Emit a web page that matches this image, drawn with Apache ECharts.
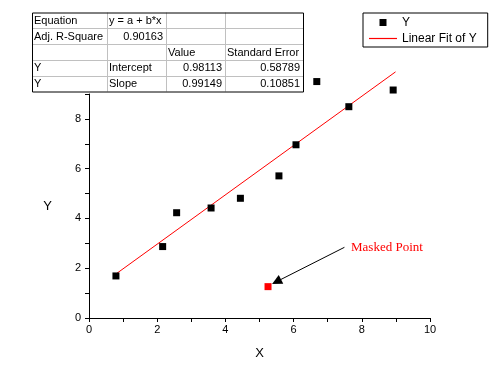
<!DOCTYPE html>
<html>
<head>
<meta charset="utf-8">
<script src="https://cdn.jsdelivr.net/npm/echarts@6/dist/echarts.min.js"></script>
<style>
html,body{margin:0;padding:0;background:#fff;}
#chart{width:500px;height:381px;}
</style>
</head>
<body>
<div id="chart"></div>
<script>
// ---- data ----
const xValues = [0.79, 2.16, 2.57, 3.58, 4.44, 5.57, 6.07, 6.68, 7.62, 8.92];
const yValues = [1.69, 2.87, 4.23, 4.42, 4.81, 5.71, 6.96, 9.50, 8.49, 9.16];
const maskedPoint = [5.25, 1.26];
const fitX = [0.72, 8.99];
const fitY = [1.70, 9.89];
const arrowFrom = [7.49, 2.84];
const arrowTo = [5.50, 1.46];
const xTicks = [0, 2, 4, 6, 8, 10];
const yTicks = [0, 2, 4, 6, 8];
const tableRow1 = ['Equation', 'y = a + b*x', '', ''];
const tableRow2 = ['Adj. R-Square', '0.90163', '', ''];
const tableRow3 = ['', '', 'Value', 'Standard Error'];
const tableRow4 = ['Y', 'Intercept', '0.98113', '0.58789'];
const tableRow5 = ['Y', 'Slope', '0.99149', '0.10851'];
const tableRows = [tableRow1, tableRow2, tableRow3, tableRow4, tableRow5];
const isNum = s => /^[0-9.]+$/.test(s);

const chart = echarts.init(document.getElementById('chart'), null, {renderer: 'canvas'});

// table graphic
const colEdges = [32, 107, 166, 225, 303];
const rowTop = 12.5, rowH = 15.8;
const g = [];
for (let r = 1; r < tableRows.length; r++) {
  g.push({type: 'line', shape: {x1: colEdges[0], y1: Math.round(rowTop + r*rowH)+0.5, x2: colEdges[4], y2: Math.round(rowTop + r*rowH)+0.5}, style: {stroke: '#c0c0c0', lineWidth: 1}, silent: true});
}
for (let c = 1; c < 4; c++) {
  g.push({type: 'line', shape: {x1: colEdges[c]+0.5, y1: rowTop, x2: colEdges[c]+0.5, y2: rowTop + 5*rowH}, style: {stroke: '#c0c0c0', lineWidth: 1}, silent: true});
}
g.push({type: 'rect', shape: {x: colEdges[0]+0.5, y: rowTop+0.5, width: colEdges[4]-colEdges[0], height: 5*rowH}, style: {fill: 'none', stroke: '#000', lineWidth: 1}, silent: true});
tableRows.forEach((row, r) => {
  row.forEach((txt, c) => {
    if (!txt) return;
    const right = isNum(txt);
    g.push({type: 'text', x: right ? colEdges[c+1]-3 : colEdges[c]+2, y: rowTop + r*rowH + rowH/2 + 0.5,
      style: {text: txt, fill: '#000', font: '11px "Liberation Sans", Arial, sans-serif', textAlign: right ? 'right' : 'left', textVerticalAlign: 'middle'}, silent: true});
  });
});

const option = {
  animation: false,
  backgroundColor: '#fff',
  grid: {left: 89, top: 94, width: 341, height: 224, containLabel: false},
  legend: {
    orient: 'vertical', left: 363, top: 13,
    data: [
      {name: 'Y', icon: 'path://M0,0h10v10h-10z'},
      {name: 'Linear Fit of Y', icon: 'path://M0,0h28v1.2h-28z'}
    ],
    itemWidth: 28, itemHeight: 7, itemGap: 3,
    padding: [3, 11, 2, 6],
    borderColor: '#000', borderWidth: 1,
    textStyle: {fontFamily: '"Liberation Sans", Arial, sans-serif', fontSize: 12, color: '#000', lineHeight: 13},
    symbolKeepAspect: true
  },
  xAxis: {
    type: 'value', min: 0, max: 10, interval: 1,
    name: 'X', nameLocation: 'middle', nameGap: 29,
    nameTextStyle: {fontFamily: '"Liberation Sans", Arial, sans-serif', fontSize: 13, color: '#000'},
    axisLine: {lineStyle: {color: '#000', width: 1}},
    axisTick: {show: true, length: 4, inside: false, lineStyle: {color: '#000'}},
    axisLabel: {color: '#000', fontSize: 11, fontFamily: '"Liberation Sans", Arial, sans-serif', margin: 6,
      formatter: v => xTicks.indexOf(v) >= 0 ? String(v) : ''},
    splitLine: {show: false}
  },
  yAxis: {
    type: 'value', min: 0, max: 9, interval: 1,
    name: 'Y', nameLocation: 'middle', nameGap: 37, nameRotate: 0,
    nameTextStyle: {fontFamily: '"Liberation Sans", Arial, sans-serif', fontSize: 13, color: '#000'},
    axisLine: {lineStyle: {color: '#000', width: 1}},
    axisTick: {show: true, length: 4, inside: false, lineStyle: {color: '#000'}},
    axisLabel: {color: '#000', fontSize: 11, fontFamily: '"Liberation Sans", Arial, sans-serif', margin: 8,
      formatter: v => yTicks.indexOf(v) >= 0 ? String(v) : ''},
    splitLine: {show: false}
  },
  series: [
    {
      name: 'Y', type: 'scatter', clip: false,
      symbol: 'rect', symbolSize: 7,
      itemStyle: {color: '#000', opacity: 1},
      data: xValues.map((x, i) => [x, yValues[i]]),
      z: 3
    },
    {
      name: 'Linear Fit of Y', type: 'line', clip: false,
      showSymbol: false, symbol: 'none',
      lineStyle: {color: '#ff0000', width: 1},
      itemStyle: {color: '#ff0000'},
      data: fitX.map((x, i) => [x, fitY[i]]),
      z: 2
    },
    {
      name: 'Masked', type: 'scatter', clip: false,
      symbol: 'rect', symbolSize: 7,
      itemStyle: {color: '#ff0000', opacity: 1},
      data: [maskedPoint],
      markLine: {
        silent: true, animation: false,
        symbol: ['none', 'triangle'], symbolSize: 10,
        itemStyle: {color: '#000'},
        lineStyle: {color: '#000', width: 1, type: 'solid', opacity: 1},
        label: {show: false},
        data: [[{coord: arrowFrom}, {coord: arrowTo}]]
      }
    }
  ],
  graphic: g.concat([
    {type: 'text', x: 351, y: 248,
      style: {text: 'Masked Point', fill: '#ff0000', font: '13px "Liberation Serif", "Times New Roman", serif', textAlign: 'left', textVerticalAlign: 'middle'}, silent: true}
  ])
};
chart.setOption(option);
</script>
</body>
</html>
